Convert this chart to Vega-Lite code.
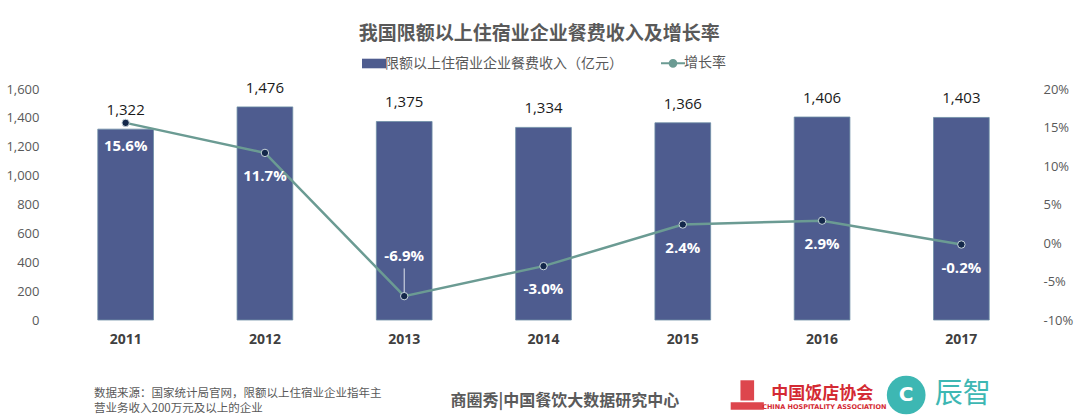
{
  "$schema": "https://vega.github.io/schema/vega-lite/v6.json",
  "padding": {"left": 5, "right": 5, "top": 25, "bottom": 0},
  "background": "white",
  "config": {
    "locale": {"number": {"decimal": ".", "thousands": ",", "grouping": [3], "currency": ["", ""], "minus": "-"}},
    "view": {"stroke": null},
    "font": "Noto Sans CJK SC",
    "axis": {"labelOverlap": false},
    "axisY": {"labelOverlap": false, "labelSeparation": 0},
    "title": {"fontSize": 19, "fontWeight": "bold", "color": "#595959", "font": "Noto Sans CJK SC", "offset": 12},
    "concat": {"spacing": 26}
  },
  "title": {"text": "我国限额以上住宿业企业餐费收入及增长率", "anchor": "middle"},
  "vconcat": [
    {
      "width": 975,
      "height": 231,
      "data": {"values": [
        {"year": "2011", "income": 1322, "growth": 0.156},
        {"year": "2012", "income": 1476, "growth": 0.117},
        {"year": "2013", "income": 1375, "growth": -0.069},
        {"year": "2014", "income": 1334, "growth": -0.030},
        {"year": "2015", "income": 1366, "growth": 0.024},
        {"year": "2016", "income": 1406, "growth": 0.029},
        {"year": "2017", "income": 1403, "growth": -0.002}
      ]},
      "encoding": {
        "x": {"field": "year", "type": "ordinal", "title": null,
          "scale": {"paddingInner": 0.6, "paddingOuter": 0.3},
          "axis": {"labelAngle": 0, "ticks": false, "domain": false, "labelPadding": 12,
            "labelFont": "Open Sans", "labelFontWeight": "bold", "labelFontSize": 14, "labelColor": "#404040"}}
      },
      "layer": [
        {
          "encoding": {
            "y": {"field": "income", "type": "quantitative", "title": null, "stack": null,
              "scale": {"domain": [0, 1600], "nice": false},
              "axis": {"orient": "left", "values": [0, 200, 400, 600, 800, 1000, 1200, 1400, 1600],
                "labelExpr": "format(datum.value, ',')", "labelOverlap": false, "labelSeparation": 0,
                "grid": false, "ticks": false, "domain": false, "labelPadding": 17,
                "labelFont": "Open Sans", "labelFontSize": 13, "labelColor": "#595959"}}
          },
          "layer": [
            {
              "mark": {"type": "bar", "stroke": "#6f8fa6", "strokeWidth": 0.8},
              "encoding": {
                "color": {"datum": "限额以上住宿业企业餐费收入（亿元）", "type": "nominal",
                  "scale": {"domain": ["限额以上住宿业企业餐费收入（亿元）", "增长率"], "range": ["#4e5c8f", "#6b9b93"]},
                  "legend": {
                    "title": null, "orient": "none", "direction": "horizontal", "legendX": 311, "legendY": -33,
                    "symbolSize": 576, "labelFontSize": 14, "labelColor": "#595959", "labelFont": "Noto Sans CJK SC",
                    "labelLimit": 0, "columnPadding": 34, "labelOffset": 4, "padding": 0,
                    "encode": {"symbols": {"update": {
                      "shape": {"signal": "datum.value === '增长率' ? 'M-1,0H1M-0.28,0A0.28,0.28 0 1 0 0.28,0A0.28,0.28 0 1 0 -0.28,0Z' : 'M-1,-0.4H1V0.4H-1Z'"},
                      "fill": {"signal": "datum.value === '增长率' ? '#14284a' : '#4e5c8f'"},
                      "stroke": {"signal": "datum.value === '增长率' ? '#6b9b93' : '#4e5c8f'"},
                      "strokeWidth": {"signal": "datum.value === '增长率' ? 2 : 0"},
                      "opacity": {"value": 1},
                      "fillOpacity": {"value": 1}
                    }}}
                  }}
              }
            },
            {
              "mark": {"type": "text", "dy": -19, "fontSize": 15, "font": "Open Sans", "color": "#1a1a1a"},
              "encoding": {
                "text": {"field": "income", "type": "quantitative", "format": ","}
              }
            }
          ]
        },
        {
          "encoding": {
            "y": {"field": "growth", "type": "quantitative", "title": null,
              "scale": {"domain": [-0.1, 0.2], "nice": false},
              "axis": {"orient": "right", "values": [-0.1, -0.05, 0, 0.05, 0.1, 0.15, 0.2],
                "labelExpr": "format(datum.value, '.0%')", "labelOverlap": false,
                "grid": false, "ticks": false, "domain": false, "labelPadding": 12,
                "labelFont": "Open Sans", "labelFontSize": 13, "labelColor": "#595959"}}
          },
          "layer": [
            {
              "mark": {"type": "line", "strokeWidth": 2.5},
              "encoding": {
                "color": {"datum": "增长率", "type": "nominal",
                  "legend": {
                    "title": null, "orient": "none", "direction": "horizontal", "legendX": 311, "legendY": -33,
                    "symbolSize": 576, "labelFontSize": 14, "labelColor": "#595959", "labelFont": "Noto Sans CJK SC",
                    "labelLimit": 0, "columnPadding": 34, "labelOffset": 4, "padding": 0,
                    "encode": {"symbols": {"update": {
                      "shape": {"signal": "datum.value === '增长率' ? 'M-1,0H1M-0.28,0A0.28,0.28 0 1 0 0.28,0A0.28,0.28 0 1 0 -0.28,0Z' : 'M-1,-0.4H1V0.4H-1Z'"},
                      "fill": {"signal": "datum.value === '增长率' ? '#14284a' : '#4e5c8f'"},
                      "stroke": {"signal": "datum.value === '增长率' ? '#6b9b93' : '#4e5c8f'"},
                      "strokeWidth": {"signal": "datum.value === '增长率' ? 2 : 0"},
                      "opacity": {"value": 1},
                      "fillOpacity": {"value": 1}
                    }}}
                  }}
              }
            },
            {
              "mark": {"type": "point", "filled": true, "size": 55, "color": "#14284a", "stroke": "#c9d6dc", "strokeWidth": 1, "opacity": 1},
              "encoding": {}
            },
            {
              "transform": [{"filter": "datum.year !== '2013'"}],
              "mark": {"type": "text", "dy": 23, "fontSize": 15, "fontWeight": "bold", "font": "Open Sans", "color": "white"},
              "encoding": {
                "text": {"field": "growth", "type": "quantitative", "format": ".1%"}
              }
            },
            {
              "transform": [{"filter": "datum.year === '2013'"}],
              "mark": {"type": "text", "dy": -40, "fontSize": 15, "fontWeight": "bold", "font": "Open Sans", "color": "white"},
              "encoding": {
                "text": {"field": "growth", "type": "quantitative", "format": ".1%"}
              }
            },
            {
              "transform": [{"filter": "datum.year === '2013'"}],
              "mark": {"type": "rule", "color": "#dfe4ec", "strokeWidth": 1},
              "encoding": {
                "y": {"datum": -0.033, "type": "quantitative"},
                "y2": {"datum": -0.064}
              }
            }
          ]
        }
      ],
      "resolve": {"scale": {"y": "independent"}}
    },
    {
      "width": 975,
      "height": 46,
      "layer": [
        {
          "data": {"values": [{"t": "数据来源：国家统计局官网，限额以上住宿业企业指年主"}]},
          "mark": {"type": "text", "align": "left", "baseline": "middle", "fontSize": 11.5, "color": "#595959", "font": "Noto Sans CJK SC"},
          "encoding": {
            "x": {"datum": 3.9, "type": "quantitative", "scale": {"domain": [0, 100]}, "axis": null},
            "y": {"datum": 24, "type": "quantitative", "scale": {"domain": [46, 0]}, "axis": null},
            "text": {"field": "t"}
          }
        },
        {
          "data": {"values": [{"t": "营业务收入200万元及以上的企业"}]},
          "mark": {"type": "text", "align": "left", "baseline": "middle", "fontSize": 11.5, "color": "#595959", "font": "Noto Sans CJK SC"},
          "encoding": {
            "x": {"datum": 3.9, "type": "quantitative"},
            "y": {"datum": 40, "type": "quantitative"},
            "text": {"field": "t"}
          }
        },
        {
          "data": {"values": [{"t": "商圈秀|中国餐饮大数据研究中心"}]},
          "mark": {"type": "text", "align": "center", "baseline": "middle", "fontSize": 16, "fontWeight": "bold", "color": "#5a5a5a", "font": "Noto Sans CJK SC"},
          "encoding": {
            "x": {"datum": 52.2, "type": "quantitative"},
            "y": {"datum": 31, "type": "quantitative"},
            "text": {"field": "t"}
          }
        },
        {
          "data": {"values": [{"part": "tower"}]},
          "mark": {"type": "rect", "color": "#d9323a", "opacity": 0.9},
          "encoding": {
            "x": {"datum": 70.2, "type": "quantitative"},
            "x2": {"datum": 71.6},
            "y": {"datum": 9, "type": "quantitative"},
            "y2": {"datum": 31}
          }
        },
        {
          "data": {"values": [{"part": "base"}]},
          "mark": {"type": "rect", "color": "#d9323a", "opacity": 0.9},
          "encoding": {
            "x": {"datum": 69.2, "type": "quantitative"},
            "x2": {"datum": 72.6},
            "y": {"datum": 33, "type": "quantitative"},
            "y2": {"datum": 41}
          }
        },
        {
          "data": {"values": [{"t": "中国饭店协会"}]},
          "mark": {"type": "text", "align": "center", "baseline": "middle", "fontSize": 17, "fontWeight": "bold", "color": "#d42a33", "font": "Noto Sans CJK SC"},
          "encoding": {
            "x": {"datum": 78.6, "type": "quantitative"},
            "y": {"datum": 24, "type": "quantitative"},
            "text": {"field": "t"}
          }
        },
        {
          "data": {"values": [{"t": "CHINA HOSPITALITY ASSOCIATION"}]},
          "mark": {"type": "text", "align": "center", "baseline": "middle", "fontSize": 6.5, "fontWeight": "bold", "color": "#d42a33", "font": "DejaVu Sans"},
          "encoding": {
            "x": {"datum": 78.8, "type": "quantitative"},
            "y": {"datum": 38, "type": "quantitative"},
            "text": {"field": "t"}
          }
        },
        {
          "data": {"values": [{"t": "C"}]},
          "mark": {"type": "point", "filled": true, "shape": "circle", "size": 1500, "color": "#3db7b3", "opacity": 1},
          "encoding": {
            "x": {"datum": 87.2, "type": "quantitative"},
            "y": {"datum": 25, "type": "quantitative"}
          }
        },
        {
          "data": {"values": [{"t": "C"}]},
          "mark": {"type": "text", "align": "center", "baseline": "middle", "fontSize": 20, "fontWeight": "bold", "color": "white", "font": "DejaVu Sans"},
          "encoding": {
            "x": {"datum": 87.2, "type": "quantitative"},
            "y": {"datum": 25, "type": "quantitative"},
            "text": {"field": "t"}
          }
        },
        {
          "data": {"values": [{"t": "辰智"}]},
          "mark": {"type": "text", "align": "center", "baseline": "middle", "fontSize": 28, "color": "#3db7b3", "font": "Noto Sans CJK SC"},
          "encoding": {
            "x": {"datum": 93.0, "type": "quantitative"},
            "y": {"datum": 25, "type": "quantitative"},
            "text": {"field": "t"}
          }
        }
      ]
    }
  ]
}
